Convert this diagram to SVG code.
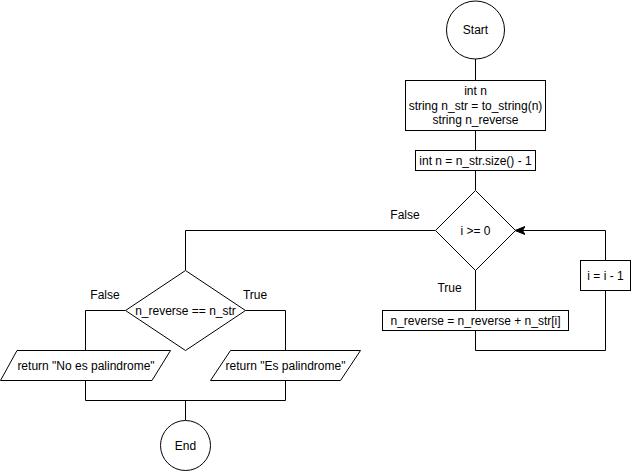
<svg xmlns="http://www.w3.org/2000/svg" width="631" height="472" viewBox="0 0 631 472">
<style>
.s{fill:#fff;stroke:#000;stroke-width:1}
.c{fill:none;stroke:#000;stroke-width:1}
text{font-family:"Liberation Sans",Arial,sans-serif;font-size:12px;fill:#000;text-anchor:middle}
</style>
<defs>
<marker id="arr" viewBox="0 0 10 10" refX="9" refY="5" markerWidth="10" markerHeight="10" markerUnits="userSpaceOnUse" orient="auto">
<path d="M0,1 L10,5 L0,9 L2.5,5 Z" fill="#000" stroke="#000" stroke-width="1"/>
</marker>
</defs>
<rect width="631" height="472" fill="#fff"/>
<g id="connectors">
<path class="c" d="M475.5,59 V80"/>
<path class="c" d="M475.5,130 V150"/>
<path class="c" d="M475.5,170 V190"/>
<path class="c" d="M475.5,270 V310.5"/>
<path class="c" d="M475.5,330.5 V350.5 H605.5 V290"/>
<path class="c" d="M605.5,260 V230.5 H516" marker-end="url(#arr)"/>
<path class="c" d="M435.5,230.5 H185.5 V270"/>
<path class="c" d="M125.5,310.5 H85.5 V350"/>
<path class="c" d="M245.5,310.5 H285.5 V350"/>
<path class="c" d="M85.5,380 V400.5 H285.5 V380"/>
<path class="c" d="M185.5,400.5 V420"/>
<text x="405" y="219">False</text>
<text x="449.5" y="291.5">True</text>
<text x="105" y="299">False</text>
<text x="255" y="299">True</text>
</g>
<g id="start">
<circle class="s" cx="475.5" cy="30" r="29"/>
<text x="475.5" y="34">Start</text>
</g>
<g id="decl">
<rect class="s" x="405.5" y="80.5" width="140" height="50"/>
<text x="475.5" y="95">int n</text>
<text x="475.5" y="109.5">string n_str = to_string(n)</text>
<text x="475.5" y="124">string n_reverse</text>
</g>
<g id="init">
<rect class="s" x="415.5" y="150.5" width="120" height="20"/>
<text x="475.5" y="164.5">int n = n_str.size() - 1</text>
</g>
<g id="cond">
<polygon class="s" points="475.5,190.5 515.5,230.5 475.5,270.5 435.5,230.5"/>
<text x="475.5" y="234.5">i &gt;= 0</text>
</g>
<g id="append">
<rect class="s" x="382.5" y="310.5" width="186" height="20"/>
<text x="475.5" y="324.5">n_reverse = n_reverse + n_str[i]</text>
</g>
<g id="dec">
<rect class="s" x="580.5" y="260.5" width="50" height="30"/>
<text x="605.5" y="279.5">i = i - 1</text>
</g>
<g id="cmp">
<polygon class="s" points="185.5,270.5 245.5,310.5 185.5,350.5 125.5,310.5"/>
<text x="185.5" y="314.5">n_reverse == n_str</text>
</g>
<g id="no">
<polygon class="s" points="17,350.5 170.5,350.5 152,380.5 0.5,380.5"/>
<text x="86" y="369.5">return "No es palindrome"</text>
</g>
<g id="yes">
<polygon class="s" points="230.5,350.5 360.5,350.5 340.5,380.5 210.5,380.5"/>
<text x="285.5" y="369.5">return "Es palindrome"</text>
</g>
<g id="end">
<circle class="s" cx="185.5" cy="445.5" r="25"/>
<text x="185.5" y="449.5">End</text>
</g>
</svg>
